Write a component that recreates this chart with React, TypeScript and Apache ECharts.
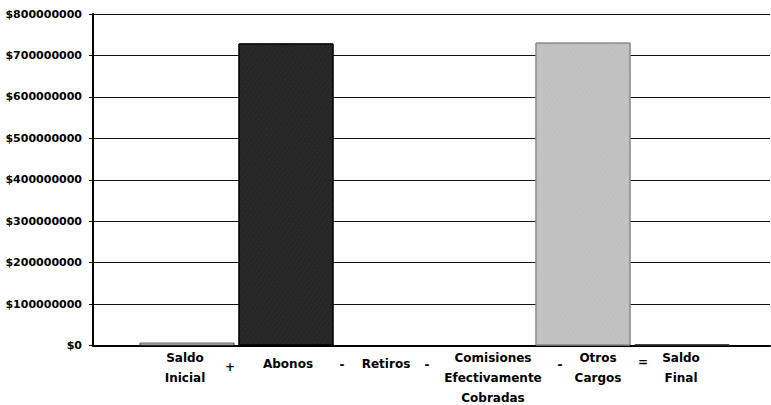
import React, { useEffect, useRef } from "react";
import * as echarts from "echarts";

const categories = ["Saldo\nInicial", "Abonos", "Retiros", "Comisiones\nEfectivamente\nCobradas", "Otros\nCargos", "Saldo\nFinal"];
const richKeys = ["ini", "abo", "ret", "com", "otr", "fin"];
const values = [7000000, 729000000, 0, 0, 731000000, 3000000];
const barFills = ["#f4f4f4", "#262626", "#ffffff", "#ffffff", "#c2c2c2", "#4a4a4a"];
const barBorders = ["#444444", "#000000", "#000000", "#000000", "#8a8a8a", "#333333"];
const operators = ["+", "-", "-", "-", "="];
const yMin = 0;
const yMax = 800000000;
const yInterval = 100000000;

export default function App() {
  const ref = useRef<HTMLDivElement>(null);
  useEffect(() => {
    if (!ref.current) return;
    const chart = echarts.init(ref.current, null, { renderer: "svg" });
    const font = "DejaVu Sans";
    const labelBase = { fontFamily: font, fontWeight: "bold", fontSize: 12, lineHeight: 20, color: "#000" };
    const opX = [230, 342, 427, 560, 643];
    const opY = [367, 365, 365, 365, 362];
    chart.setOption({
      animation: false,
      backgroundColor: "#ffffff",
      grid: [
        { left: 93, right: 1, top: 14, bottom: 59.5 },
        { left: 137.5, right: 39.5, top: 14, bottom: 59.5 },
      ],
      xAxis: [
        {
          type: "value",
          gridIndex: 0,
          min: 0,
          max: 1,
          axisLabel: { show: false },
          axisTick: { show: false },
          splitLine: { show: false },
          axisLine: { show: true, onZero: false, lineStyle: { color: "#000", width: 2 } },
        },
        {
          type: "category",
          gridIndex: 1,
          data: categories,
          axisLine: { show: false },
          axisTick: { show: false },
          axisLabel: {
            interval: 0,
            margin: 2,
            verticalAlign: "top",
            formatter: (v: string, i: number) => `{${richKeys[i]}|${v}}`,
            rich: {
              ini: { ...labelBase, padding: [0, 4, 0, 0] },
              abo: { ...labelBase, padding: [13, 0, 0, 4] },
              ret: { ...labelBase, padding: [13, 0, 0, 2] },
              com: { ...labelBase, padding: [0, 0, 0, 18] },
              otr: { ...labelBase, padding: [0, 0, 0, 30] },
              fin: { ...labelBase, padding: [0, 2, 0, 0] },
            },
          },
        },
      ],
      yAxis: [
        {
          type: "value",
          gridIndex: 0,
          min: yMin,
          max: yMax,
          interval: yInterval,
          axisLine: { show: true, lineStyle: { color: "#000", width: 2 } },
          axisTick: { show: true, length: 4, lineStyle: { color: "#000" } },
          axisLabel: {
            margin: 11,
            fontFamily: font,
            fontWeight: "bold",
            fontSize: 11,
            color: "#000",
            formatter: (v: number) => "$" + v,
          },
          splitLine: { show: true, lineStyle: { color: "#111", width: 1 } },
        },
        {
          type: "value",
          gridIndex: 1,
          min: yMin,
          max: yMax,
          interval: yInterval,
          show: false,
          splitLine: { show: false },
        },
      ],
      series: [
        {
          type: "bar",
          xAxisIndex: 1,
          yAxisIndex: 1,
          barCategoryGap: "4%",
          data: values.map((v, i) => ({
            value: v,
            itemStyle: {
              color: barFills[i],
              borderColor: barBorders[i],
              borderWidth: 1,
              decal:
                i === 1
                  ? { symbol: "rect", symbolSize: 0.5, color: "rgba(255,255,255,0.28)", dashArrayX: [1, 3], dashArrayY: [1, 2], rotation: 0.6 }
                  : i === 4
                  ? { symbol: "rect", symbolSize: 0.5, color: "rgba(0,0,0,0.18)", dashArrayX: [1, 3], dashArrayY: [1, 2], rotation: 0.6 }
                  : "none",
            },
          })),
        },
      ],
      graphic: operators.map((op, i) => ({
        type: "text",
        x: opX[i],
        y: opY[i],
        style: {
          text: op,
          fontFamily: font,
          fontWeight: "bold",
          fontSize: 12,
          fill: "#000",
          align: "center",
          verticalAlign: "middle",
        },
      })),
    });
    return () => chart.dispose();
  }, []);
  return <div ref={ref} style={{ width: 771, height: 405, position: "fixed", left: 0, top: 0 }} />;
}
